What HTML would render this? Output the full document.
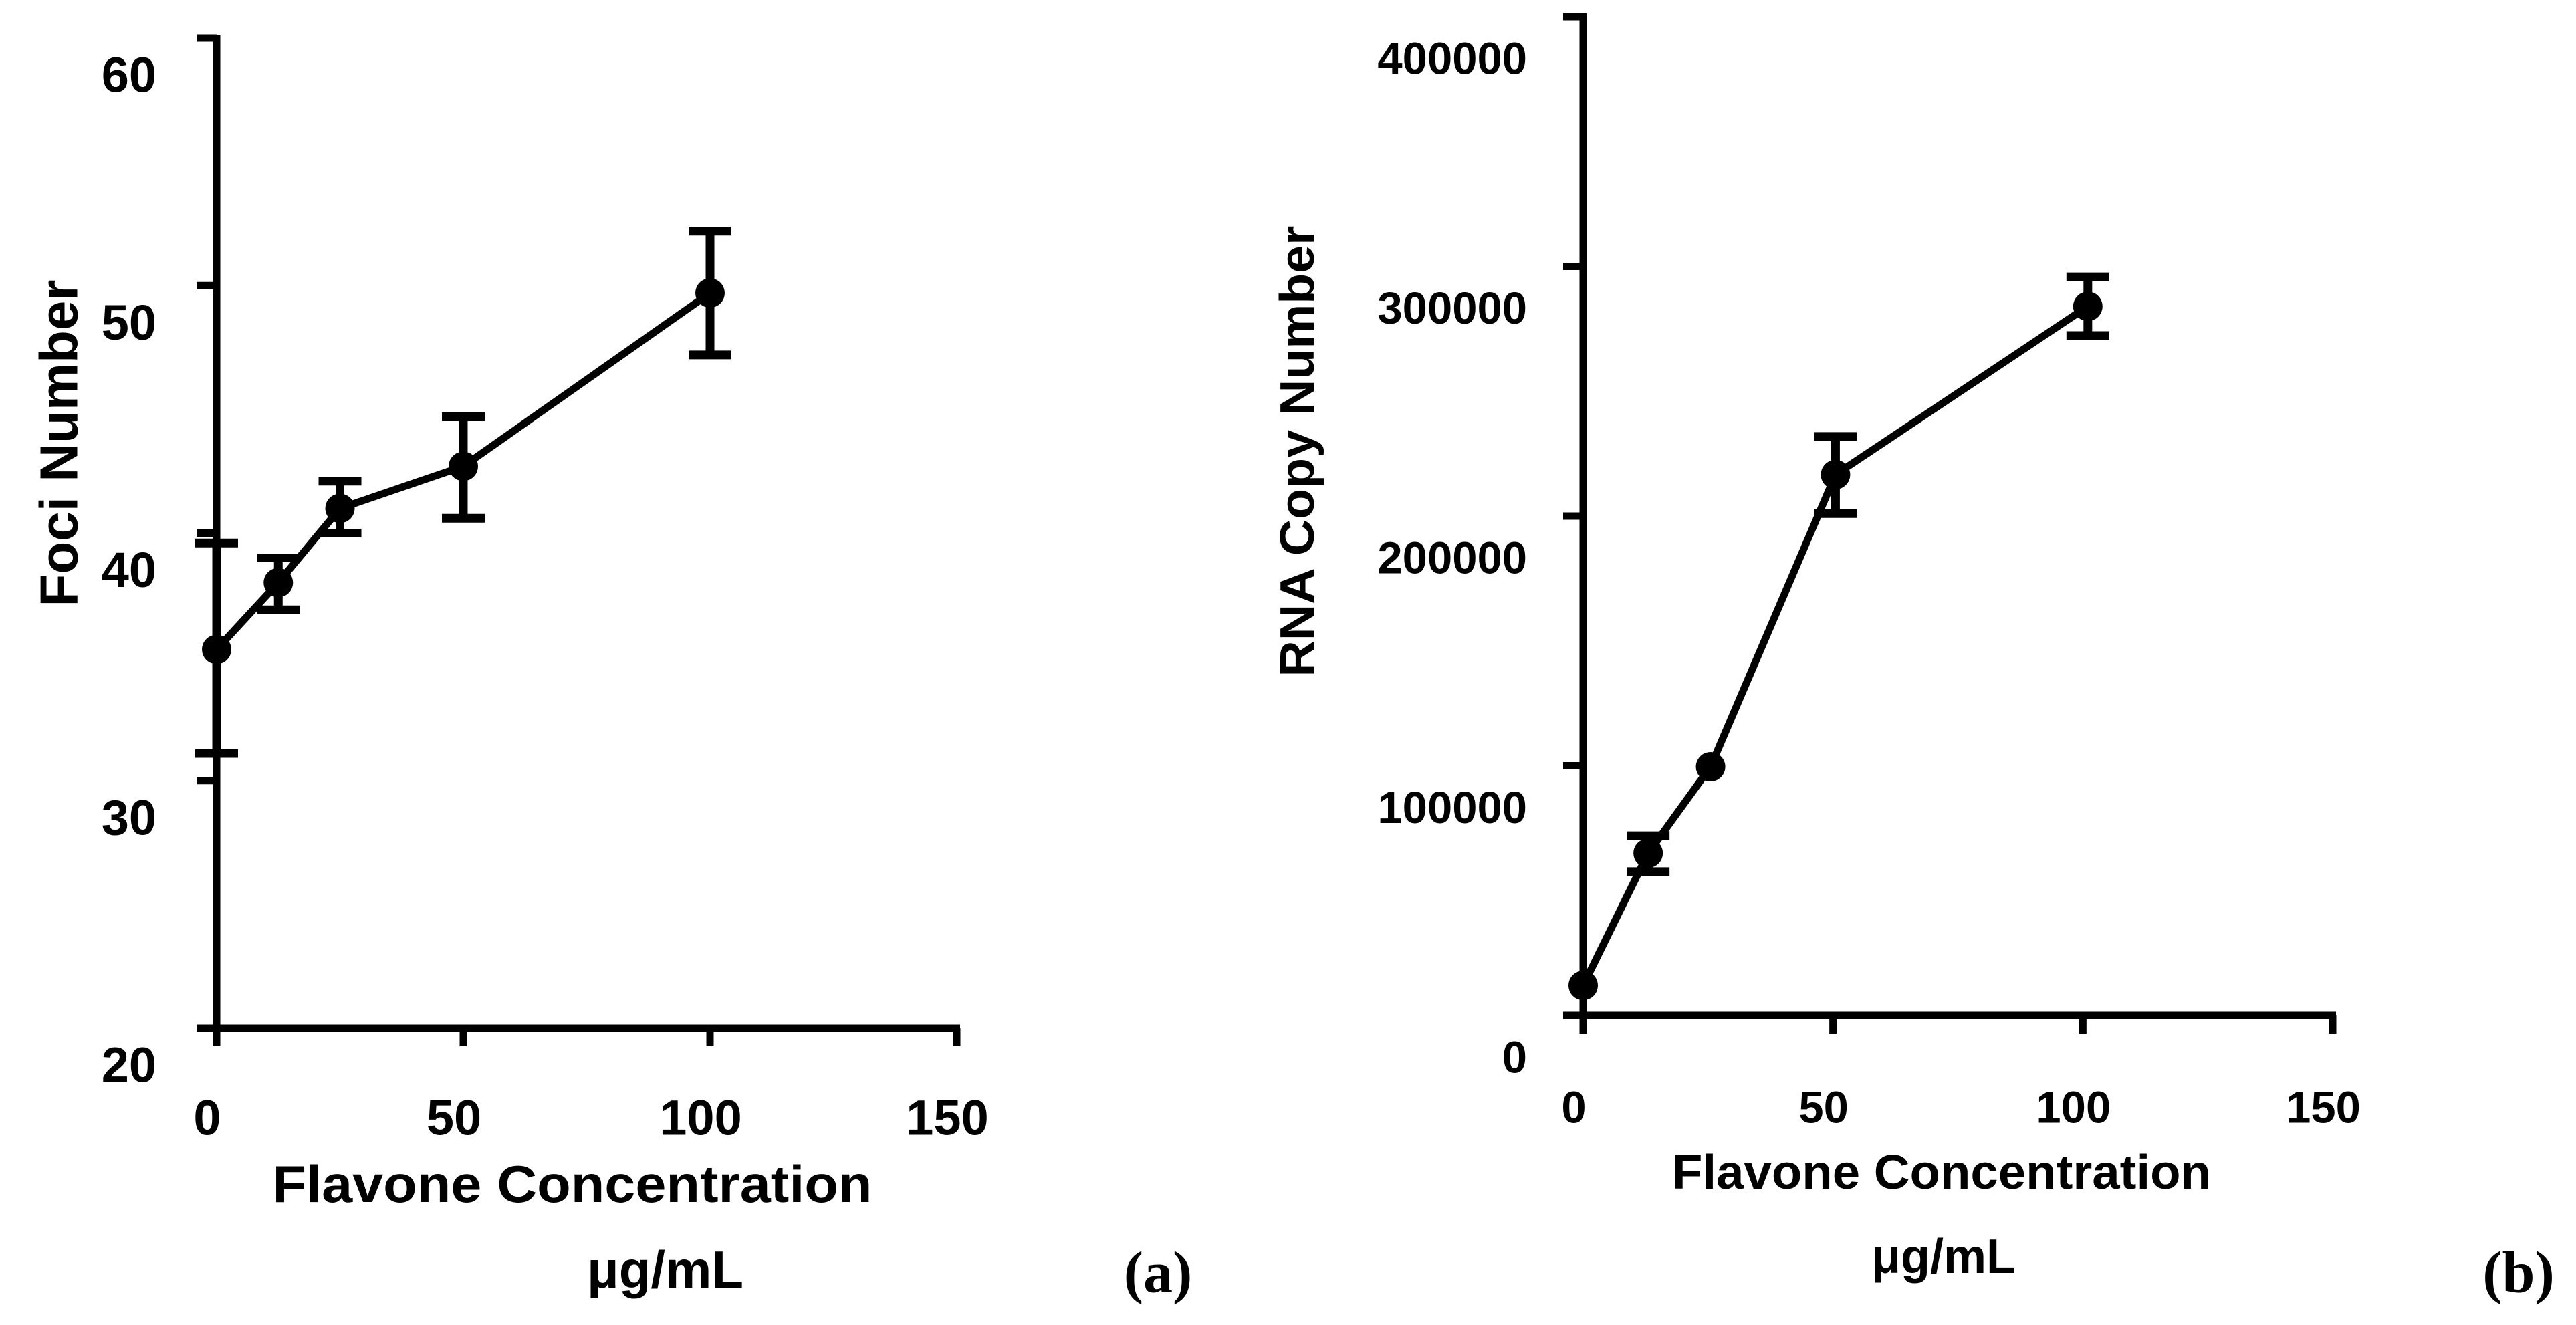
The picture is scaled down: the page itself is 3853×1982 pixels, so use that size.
<!DOCTYPE html>
<html><head><meta charset="utf-8"><style>
html,body{margin:0;padding:0;background:#fff;}
svg{display:block;}
text{font-family:"Liberation Sans",Arial,sans-serif;font-weight:bold;fill:#000;}
</style></head><body>
<svg id="chart" width="3853" height="1982" viewBox="0 0 3853 1982" xmlns="http://www.w3.org/2000/svg">
<g id="pa"></g>
<g id="pb"></g>
<text x="88" y="663" font-size="80" text-anchor="middle" dominant-baseline="central" transform="rotate(-90 88 663)">Foci Number</text>
<text x="856" y="1771" font-size="78" text-anchor="middle" dominant-baseline="central" textLength="897" lengthAdjust="spacingAndGlyphs">Flavone Concentration</text>
<text x="995" y="1899" font-size="78" text-anchor="middle" dominant-baseline="central">μg/mL</text>
<text x="1732" y="1904" font-size="88" text-anchor="middle" dominant-baseline="central" style="font-family:'Liberation Serif',serif">(a)</text>
<text x="1941" y="675" font-size="72" text-anchor="middle" dominant-baseline="central" transform="rotate(-90 1941 675)" textLength="675" lengthAdjust="spacingAndGlyphs">RNA Copy Number</text>
<text x="2904" y="1754" font-size="72" text-anchor="middle" dominant-baseline="central" textLength="806" lengthAdjust="spacingAndGlyphs">Flavone Concentration</text>
<text x="2907" y="1880" font-size="72" text-anchor="middle" dominant-baseline="central">μg/mL</text>
<text x="3767" y="1904" font-size="88" text-anchor="middle" dominant-baseline="central" style="font-family:'Liberation Serif',serif">(b)</text>
</svg>
<script>
// Panel A data
const xA = [0, 12.5, 25, 50, 100];
const yA = [35.3, 38.0, 41.0, 42.7, 49.7];
const hiA = [39.6, 39.0, 42.1, 44.7, 52.2];
const loA = [31.1, 36.9, 40.0, 40.6, 47.2];
const xTicksA = [0, 50, 100, 150];
const yTicksA = [20, 30, 40, 50, 60];
// Panel B data
const xB = [0, 13, 25.5, 50.5, 101];
const yB = [12000, 65000, 99600, 216600, 284000];
const hiB = [12000, 72000, 99600, 231900, 295800];
const loB = [12000, 57600, 99600, 201000, 272300];
const xTicksB = [0, 50, 100, 150];
const yTicksB = [0, 100000, 200000, 300000, 400000];

const NS = "http://www.w3.org/2000/svg";
function mk(parent, tag, attrs){
  const e = document.createElementNS(NS, tag);
  for (const k in attrs) e.setAttribute(k, attrs[k]);
  parent.appendChild(e);
  return e;
}
function draw(g, cfg){
  const sx = v => cfg.x0 + (v - cfg.xmin) / (cfg.xmax - cfg.xmin) * (cfg.x1 - cfg.x0);
  const sy = v => cfg.y0 - (v - cfg.ymin) / (cfg.ymax - cfg.ymin) * (cfg.y0 - cfg.y1);
  const ax = mk(g, 'line', {x1: cfg.x0, y1: cfg.y1 - 5, x2: cfg.x0, y2: cfg.y0 + 5, stroke: '#000', 'stroke-width': 11});
  
  
  const bx = mk(g, 'line', {x1: cfg.x0 - 30, y1: cfg.y0, x2: sx(cfg.xmax) + 5, y2: cfg.y0, stroke: '#000', 'stroke-width': 11});
  
  
  cfg.yt.forEach(v => {
    const t = mk(g, 'line', {x1: cfg.x0 - 30, y1: sy(v), x2: cfg.x0, y2: sy(v), stroke: '#000', 'stroke-width': 11});
    
    
    const l = mk(g, 'text', {x: cfg.ylx, y: sy(v) + cfg.yoff, 'font-size': cfg.fs, 'text-anchor': 'end', 'dominant-baseline': 'central'});
    l.textContent = String(v);
    
    
  });
  cfg.xt.forEach(v => {
    const t = mk(g, 'line', {x1: sx(v), y1: cfg.y0, x2: sx(v), y2: cfg.y0 + 27, stroke: '#000', 'stroke-width': 11});
    
    
    const l = mk(g, 'text', {x: sx(v) - 14, y: cfg.xly, 'font-size': cfg.fs, 'text-anchor': 'middle', 'dominant-baseline': 'central'});
    l.textContent = String(v);
    
    
  });
  const pts = cfg.xs.map((x, i) => sx(x) + ',' + sy(cfg.ys[i])).join(' ');
  const pl = mk(g, 'polyline', {points: pts, fill: 'none', stroke: '#000', 'stroke-width': 11, 'stroke-linejoin': 'round'});
  
  
  cfg.xs.forEach((x, i) => {
    if (cfg.hi[i] !== cfg.lo[i]) {
      const cx = sx(x), w = 32;
      const eb = mk(g, 'path', {d: `M${cx},${sy(cfg.hi[i])}V${sy(cfg.lo[i])}M${cx-w},${sy(cfg.hi[i])}H${cx+w}M${cx-w},${sy(cfg.lo[i])}H${cx+w}`, stroke: '#000', 'stroke-width': 13, fill: 'none'});
      
      
    }
    const c = mk(g, 'circle', {cx: sx(x), cy: sy(cfg.ys[i]), r: 22, fill: '#000'});
    
    
  });
}
draw(document.getElementById('pa'), {x0: 324, x1: 1431, xmin: 0, xmax: 150, y0: 1538, y1: 57, ymin: 20, ymax: 60,
  xs: xA, ys: yA, hi: hiA, lo: loA, xt: xTicksA, yt: yTicksA, ylx: 234, yoff: 55, xly: 1672, fs: 74});
draw(document.getElementById('pb'), {x0: 2368, x1: 3489, xmin: 0, xmax: 150, y0: 1519, y1: 25, ymin: 0, ymax: 400000,
  xs: xB, ys: yB, hi: hiB, lo: loB, xt: xTicksB, yt: yTicksB, ylx: 2284, yoff: 63, xly: 1657, fs: 67});
</script>
</body></html>
